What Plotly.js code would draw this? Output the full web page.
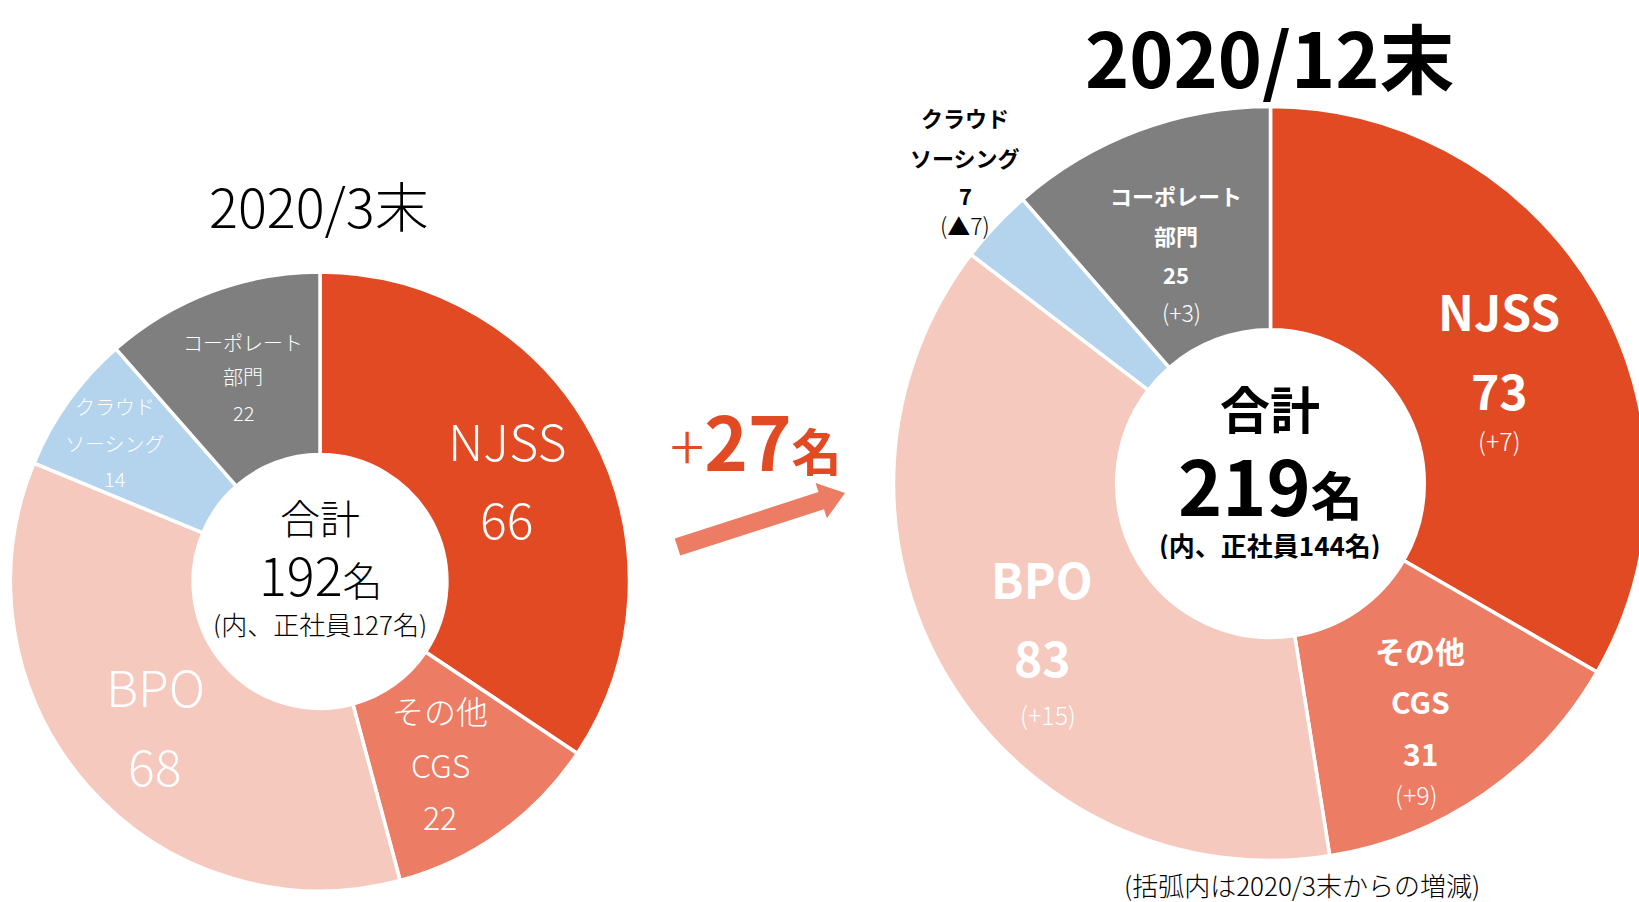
<!DOCTYPE html>
<html>
<head>
<meta charset="utf-8">
<script src="https://cdn.plot.ly/plotly-3.0.1.min.js"></script>
<style>
html,body{margin:0;padding:0;overflow:hidden;background:#ffffff;}
#chart{width:1700px;height:902px;}
</style>
</head>
<body>
<div id="chart"></div>
<script>
// ---------------- data ----------------
const categories = ['NJSS', 'その他CGS', 'BPO', 'クラウドソーシング', 'コーポレート部門'];
const labelLines = [['NJSS'], ['その他', 'CGS'], ['BPO'], ['クラウド', 'ソーシング'], ['コーポレート', '部門']];
const valuesMar2020 = [66, 22, 68, 14, 22];
const valuesDec2020 = [73, 31, 83, 7, 25];
const fullTimeMar2020 = 127;
const fullTimeDec2020 = 144;
const periodLabels = ['2020/3末', '2020/12末'];
const footnote = '(括弧内は2020/3末からの増減)';

// ---------------- styles / layout ----------------
const W = 1700, H = 902;
const FONT = '"Noto Sans CJK JP", "Noto Sans", sans-serif';
const sliceColors = ['#E24A24', '#EC7D64', '#F6C9BE', '#B4D3EC', '#7F7F7F'];
const accent = '#E24A24';
const arrowColor = '#EC7D64';
const LIGHT = 300;

const leftPie = {cx: 320, cy: 581.5, r: 309.5, hole: 0.41};
const rightPie = {cx: 1270.5, cy: 483.5, r: 377, hole: 0.408};

const leftLabelPos = [
  {x: 507, ys: [439, 517], size: 50},
  {x: 440, ys: [710, 764, 816], size: 32},
  {x: 155, ys: [685, 764], size: 50},
  {x: 115, ys: [406, 443, 479], size: 20},
  {x: 243, ys: [342, 376, 412], size: 20}
];
const rightLabelPos = [
  {x: 1499, ys: [310, 389], cx: 1499, cy: 440, size: 48, csize: 25, color: '#ffffff'},
  {x: 1420, ys: [650, 701, 753], cx: 1416, cy: 794, size: 30, csize: 25, color: '#ffffff'},
  {x: 1042, ys: [578, 656], cx: 1048, cy: 714, size: 48, csize: 25, color: '#ffffff'},
  {x: 965, ys: [117, 157, 195], cx: 965, cy: 225, size: 22, csize: 23, color: '#000000'},
  {x: 1176, ys: [195, 235, 274], cx: 1181, cy: 312, size: 22, csize: 23, color: '#ffffff'}
];

const px2x = p => p / W;
const px2y = p => 1 - p / H;

function domainOf(p) {
  return {x: [px2x(p.cx - p.r), px2x(p.cx + p.r)], y: [px2y(p.cy + p.r), px2y(p.cy - p.r)]};
}

function pieTrace(values, geom) {
  return {
    type: 'pie',
    labels: categories,
    values: values,
    sort: false,
    direction: 'clockwise',
    rotation: 0,
    hole: geom.hole,
    domain: domainOf(geom),
    marker: {colors: sliceColors, line: {color: '#ffffff', width: 3.5}},
    textinfo: 'none',
    hoverinfo: 'label+value',
    showlegend: false
  };
}

function ann(px, py, text, size, color, weight, yanchor, boxH) {
  const a = {
    xref: 'paper', yref: 'paper', x: px2x(px), y: px2y(py), text: text,
    showarrow: false, xanchor: 'center', yanchor: yanchor || 'middle', borderpad: 0,
    font: {family: FONT, size: size, color: color, weight: weight || 'normal'}
  };
  if (boxH) { a.height = boxH; a.valign = 'middle'; }
  return a;
}

const sum = a => a.reduce((s, v) => s + v, 0);
const annotations = [];

// titles
annotations.push(ann(319, 204, periodLabels[0], 54, '#000000', LIGHT));
annotations.push(ann(1270, 0, periodLabels[1], 75, '#000000', 'bold', 'top'));

// left labels
leftLabelPos.forEach((p, i) => {
  const lines = labelLines[i].concat([String(valuesMar2020[i])]);
  lines.forEach((t, j) => annotations.push(ann(p.x, p.ys[j], t, p.size, '#ffffff', LIGHT)));
});

// right labels with change vs March
rightLabelPos.forEach((p, i) => {
  const lines = labelLines[i].concat([String(valuesDec2020[i])]);
  lines.forEach((t, j) => annotations.push(ann(p.x, p.ys[j], t, p.size, p.color, 'bold')));
  const d = valuesDec2020[i] - valuesMar2020[i];
  const ct = d >= 0 ? '(+' + d + ')' : '(▲' + (-d) + ')';
  annotations.push(ann(p.cx, p.cy, ct, p.csize, p.color, LIGHT));
});

// centre texts (boxes trimmed to the glyph height so the stacked lines do not collide)
annotations.push(ann(320, 517, '合計', 40, '#000000', LIGHT, 'middle', 44));
annotations.push(ann(320, 573, sum(valuesMar2020) + '<span style="font-size:40px">名</span>', 52, '#000000', LIGHT, 'middle', 56));
annotations.push(ann(320, 623, '(内、正社員' + fullTimeMar2020 + '名)', 26, '#000000', LIGHT, 'middle', 30));

annotations.push(ann(1270, 407, '合計', 50, '#000000', 'bold', 'middle', 54));
annotations.push(ann(1270, 483, sum(valuesDec2020) + '<span style="font-size:52px">名</span>', 75, '#000000', 'bold', 'middle', 78));
annotations.push(ann(1270, 544, '(内、正社員' + fullTimeDec2020 + '名)', 26, '#000000', 'bold', 'middle', 30));

// growth
const growth = sum(valuesDec2020) - sum(valuesMar2020);
annotations.push(ann(756, 438, '<span style="font-weight:300;font-size:64px">+</span>' + growth + '<span style="font-size:50px">名</span>', 74, accent, 'bold'));

// footnote
annotations.push(ann(1302, 884, footnote, 26, '#000000', LIGHT));

// arrow shape
const T = [677.5, 547], P = [845, 493];
const len = Math.hypot(P[0] - T[0], P[1] - T[1]);
const u = [(P[0] - T[0]) / len, (P[1] - T[1]) / len];
const n = [-u[1], u[0]];
const hw = 9, headLen = 25, headHw = 18.5;
const B = [P[0] - u[0] * headLen, P[1] - u[1] * headLen];
const pts = [
  [T[0] + n[0] * hw, T[1] + n[1] * hw],
  [B[0] + n[0] * hw, B[1] + n[1] * hw],
  [B[0] + n[0] * headHw, B[1] + n[1] * headHw],
  P,
  [B[0] - n[0] * headHw, B[1] - n[1] * headHw],
  [B[0] - n[0] * hw, B[1] - n[1] * hw],
  [T[0] - n[0] * hw, T[1] - n[1] * hw]
];
const path = pts.map((q, k) => (k ? 'L' : 'M') + px2x(q[0]).toFixed(5) + ',' + px2y(q[1]).toFixed(5)).join(' ') + ' Z';

const layout = {
  width: W, height: H,
  margin: {l: 0, r: 0, t: 0, b: 0},
  paper_bgcolor: '#ffffff',
  showlegend: false,
  annotations: annotations,
  shapes: [{type: 'path', xref: 'paper', yref: 'paper', path: path, fillcolor: arrowColor, line: {width: 0}}]
};

Plotly.newPlot('chart', [pieTrace(valuesMar2020, leftPie), pieTrace(valuesDec2020, rightPie)], layout, {displayModeBar: false, responsive: false});
</script>
</body>
</html>
